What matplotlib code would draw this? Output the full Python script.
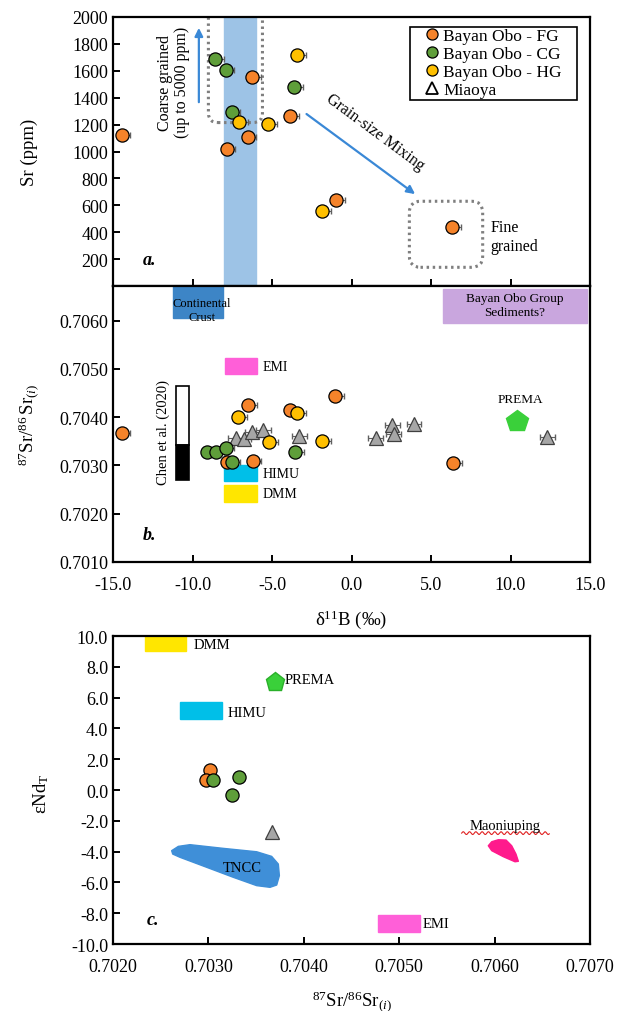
import numpy as np
import matplotlib
matplotlib.use("Agg")
import matplotlib.pyplot as plt
from matplotlib.patches import Rectangle, Polygon, FancyBboxPatch
from matplotlib.lines import Line2D
from matplotlib.ticker import FormatStrFormatter

plt.rcParams['font.family'] = ['Liberation Serif', 'DejaVu Serif']
plt.rcParams['mathtext.fontset'] = 'custom'
plt.rcParams['mathtext.rm'] = 'Liberation Serif'
plt.rcParams['mathtext.it'] = 'Liberation Serif:italic'
plt.rcParams['mathtext.bf'] = 'Liberation Serif:bold'

# ---------------- data ----------------
# panel a : d11B vs Sr (ppm)
a_fg_d = [-14.45, -6.24, -3.87, -6.53, -7.85, -0.99, 6.34]
a_fg_sr = [1123, 1551, 1261, 1110, 1019, 642, 441]
a_cg_d = [-8.58, -7.91, -3.60, -7.54]
a_cg_sr = [1688, 1608, 1477, 1296]
a_hg_d = [-3.41, -7.07, -5.23, -1.87]
a_hg_sr = [1717, 1217, 1204, 555]

# panel b : d11B vs 87Sr/86Sr(i)
b_fg_d = [-14.45, -1.04, -6.49, -3.87, -7.85, -6.22, 6.40]
b_fg_sr = [0.70367, 0.70444, 0.70426, 0.70415, 0.70307, 0.70310, 0.70305]
b_cg_d = [-9.07, -8.54, -7.91, -7.54, -3.55]
b_cg_sr = [0.70329, 0.70329, 0.70336, 0.70308, 0.70329]
b_hg_d = [-3.41, -7.12, -5.19, -1.84]
b_hg_sr = [0.70409, 0.70400, 0.70348, 0.70350]
b_mi_d = [-7.28, -6.76, -6.24, -5.55, -3.28, 1.52, 2.57, 2.67, 3.93, 12.31]
b_mi_sr = [0.70357, 0.70355, 0.70369, 0.70374, 0.70361, 0.70357, 0.70383, 0.70366, 0.70385, 0.70360]
b_prema = (10.39, 0.70393)

# panel c : 87Sr/86Sr(i) vs eNd
c_fg_sr = [0.70302, 0.70297]
c_fg_nd = [1.30, 0.65]
c_cg_sr = [0.70305, 0.70332, 0.70325]
c_cg_nd = [0.65, 0.82, -0.30]
c_mi_sr = [0.70367]
c_mi_nd = [-2.75]
c_prema = (0.70370, 7.03)

tncc_sr = [0.702615, 0.702685, 0.702807, 0.703157, 0.703506, 0.703663, 0.703733,
           0.703744, 0.703716, 0.703646, 0.703506, 0.703261, 0.702982, 0.702702, 0.702626]
tncc_nd = [-3.94, -3.66, -3.55, -3.79, -4.01, -4.31, -4.81,
           -5.56, -6.17, -6.32, -6.21, -5.67, -5.02, -4.37, -4.16]
maon_sr = [0.705934, 0.705970, 0.706039, 0.706120, 0.706179, 0.706224, 0.706249,
           0.706214, 0.706091, 0.705970]
maon_nd = [-3.62, -3.36, -3.23, -3.25, -3.62, -4.16, -4.63, -4.66, -4.33, -3.94]

c_orange = '#f5832a'
c_green = '#5f9e3a'
c_yellow = '#ffc000'
c_gray = '#a6a6a6'
c_arrow = '#3a88d6'

fig = plt.figure(figsize=(6.2, 10.12), dpi=100)
L, W = 113/620, 477/620
axa = fig.add_axes([L, 1-287/1012, W, 269/1012])
axb = fig.add_axes([L, 1-563/1012, W, 276/1012])
axc = fig.add_axes([L, 1-945/1012, W, 308/1012])

for ax in (axa, axb, axc):
    for s in ax.spines.values():
        s.set_linewidth(1.6)
    ax.tick_params(direction='in', length=5, width=1.4, labelsize=13, top=False, right=False)

ms = 9.5
def circles(ax, xs, ys, col, err=True):
    if err:
        ax.errorbar(xs, ys, xerr=[np.zeros(len(xs)), np.full(len(xs), 0.55)], fmt='none',
                    ecolor='#606060', elinewidth=0.8, capsize=2.5, zorder=3)
    ax.plot(xs, ys, 'o', ms=ms, mfc=col, mec='black', mew=0.9, zorder=4)

# ---------------- panel a ----------------
axa.set_xlim(-15, 15)
axa.set_ylim(0, 2000)
axa.set_xticks([-15, -10, -5, 0, 5, 10, 15])
axa.set_xticklabels([])
axa.set_yticks(list(range(200, 2001, 200)))
axa.axvspan(-8, -6, color='#9dc3e6', zorder=1)
# dotted boxes
asp = (2000/269) / (30/477)
axa.add_patch(FancyBboxPatch((-9.0, 1215), 3.4, 1000, boxstyle='round,pad=0,rounding_size=0.6',
                             mutation_aspect=asp, fill=False, ec='#7f7f7f', lw=2.2,
                             ls=(0, (0.8, 1.2)), zorder=2, clip_on=True))
axa.add_patch(FancyBboxPatch((3.64, 139), 4.61, 491, boxstyle='round,pad=0,rounding_size=0.7',
                             mutation_aspect=asp, fill=False, ec='#7f7f7f', lw=2.2,
                             ls=(0, (0.8, 1.2)), zorder=2))
circles(axa, a_fg_d, a_fg_sr, c_orange)
circles(axa, a_cg_d, a_cg_sr, c_green)
circles(axa, a_hg_d, a_hg_sr, c_yellow)
axa.annotate('', xy=(-9.6, 1940), xytext=(-9.6, 1346),
             arrowprops=dict(arrowstyle='-|>', color=c_arrow, lw=1.6, mutation_scale=12))
axa.text(-11.2, 1520, 'Coarse grained\n(up to 5000 ppm)', rotation=90, ha='center', va='center',
         fontsize=11.5, linespacing=1.1)
axa.annotate('', xy=(4.14, 671), xytext=(-2.97, 1291),
             arrowprops=dict(arrowstyle='-|>', color=c_arrow, lw=1.6, mutation_scale=12))
axa.text(1.5, 1150, 'Grain-size Mixing', rotation=-36.5, ha='center', va='center',
         rotation_mode='anchor', fontsize=11.5)
axa.text(8.75, 370, 'Fine\ngrained', ha='left', va='center', fontsize=11.5, linespacing=1.25)
axa.text(-13.1, 195, 'a.', fontsize=13, fontweight='bold', fontstyle='italic', ha='left', va='center')
axa.set_ylabel('Sr (ppm)', fontsize=13.5)
axa.yaxis.set_label_coords(-0.158, 0.5)

# legend (frame drawn separately)
axa.add_patch(Rectangle((0.623, 0.690), 0.350, 0.273, transform=axa.transAxes, fill=False,
                        ec='black', lw=1.2, zorder=6))
handles = [Line2D([], [], ls='none', marker='o', ms=8, mfc=c_orange, mec='black', mew=0.9),
           Line2D([], [], ls='none', marker='o', ms=8, mfc=c_green, mec='black', mew=0.9),
           Line2D([], [], ls='none', marker='o', ms=8, mfc=c_yellow, mec='black', mew=0.9),
           Line2D([], [], ls='none', marker='^', ms=8, mfc='white', mec='black', mew=1.3)]
leg = axa.legend(handles, ['Bayan Obo - FG', 'Bayan Obo - CG', 'Bayan Obo - HG', 'Miaoya'],
                 loc='upper left', bbox_to_anchor=(0.645, 0.958), fontsize=12.5, frameon=False,
                 labelspacing=0.1, handletextpad=0.0, handlelength=1.3, borderpad=0.0,
                 borderaxespad=0)
leg._legend_box.align = 'left'

# ---------------- panel b ----------------
axb.set_xlim(-15, 15)
axb.set_ylim(0.7010, 0.70672)
axb.set_xticks([-15, -10, -5, 0, 5, 10, 15])
axb.set_yticks([0.7010, 0.7020, 0.7030, 0.7040, 0.7050, 0.7060])
axb.xaxis.set_major_formatter(FormatStrFormatter('%.1f'))
axb.yaxis.set_major_formatter(FormatStrFormatter('%.4f'))
axb.tick_params(axis='x', pad=10)
axb.add_patch(Rectangle((-11.2, 0.70606), 3.1, 0.0007, color='#3d85c6', zorder=1))
axb.text(-9.42, 0.70622, 'Continental\nCrust', ha='center', va='center', fontsize=9, linespacing=1.25, zorder=2)
axb.add_patch(Rectangle((5.77, 0.70596), 9.02, 0.0007, color='#c9a6de', zorder=1))
axb.text(10.28, 0.70632, 'Bayan Obo Group\nSediments?', ha='center', va='center', fontsize=9.5, linespacing=1.2)
axb.add_patch(Rectangle((-7.96, 0.70490), 2.03, 0.00033, color='#ff5fd8', zorder=1))
axb.text(-5.6, 0.70506, 'EMI', ha='left', va='center', fontsize=10)
axb.add_patch(Rectangle((-8.0, 0.70267), 2.03, 0.00035, color='#00bfe8', zorder=1))
axb.text(-5.6, 0.70284, 'HIMU', ha='left', va='center', fontsize=10)
axb.add_patch(Rectangle((-8.0, 0.70225), 2.03, 0.00035, color='#ffe600', zorder=1))
axb.text(-5.6, 0.70242, 'DMM', ha='left', va='center', fontsize=10)
axb.add_patch(Rectangle((-11.04, 0.70343), 0.82, 0.00122, fc='white', ec='black', lw=1.2, zorder=2))
axb.add_patch(Rectangle((-11.04, 0.70270), 0.82, 0.00073, fc='black', ec='black', lw=1.2, zorder=2))
axb.text(-11.85, 0.70370, 'Chen et al. (2020)', rotation=90, ha='center', va='center', fontsize=10.5)
axb.errorbar(b_mi_d, b_mi_sr, xerr=0.47, fmt='none', ecolor='#606060', elinewidth=0.8, capsize=2.5, zorder=3)
axb.plot(b_mi_d, b_mi_sr, '^', ms=10, mfc=c_gray, mec='#404040', mew=0.9, zorder=4)
circles(axb, b_fg_d, b_fg_sr, c_orange)
circles(axb, b_cg_d, b_cg_sr, c_green)
circles(axb, b_hg_d, b_hg_sr, c_yellow)
axb.plot([b_prema[0]], [b_prema[1]], 'p', ms=16, mfc='#3ad03a', mec='#3ad03a', zorder=4)
axb.text(10.6, 0.70438, 'PREMA', ha='center', va='center', fontsize=9.5)
axb.text(-13.1, 0.70158, 'b.', fontsize=13, fontweight='bold', fontstyle='italic', ha='left', va='center')
axb.set_ylabel(r'$^{87}\mathrm{Sr}/^{86}\,\mathrm{Sr}_{(i)}$', fontsize=13.5)
axb.yaxis.set_label_coords(-0.15, 0.5)
axb.set_xlabel('δ$^{11}$B (‰)', fontsize=13.5)
axb.xaxis.set_label_coords(0.5, -0.165)

# ---------------- panel c ----------------
axc.set_xlim(0.7020, 0.7070)
axc.set_ylim(-10, 10)
axc.set_xticks([0.7020, 0.7030, 0.7040, 0.7050, 0.7060, 0.7070])
axc.set_yticks(list(np.arange(-10, 10.1, 2)))
axc.xaxis.set_major_formatter(FormatStrFormatter('%.4f'))
axc.yaxis.set_major_formatter(FormatStrFormatter('%.1f'))
axc.tick_params(axis='x', pad=10)
axc.add_patch(Rectangle((0.70234, 9.05), 0.00043, 0.95, color='#ffe600', zorder=1))
axc.text(0.70284, 9.45, 'DMM', ha='left', va='center', fontsize=10.5)
axc.add_patch(Rectangle((0.70270, 4.6), 0.00044, 1.13, color='#00bfe8', zorder=1))
axc.text(0.70320, 5.05, 'HIMU', ha='left', va='center', fontsize=10.5)
axc.add_patch(Rectangle((0.70478, -9.2), 0.00044, 1.08, color='#ff5fd8', zorder=1))
axc.text(0.70525, -8.7, 'EMI', ha='left', va='center', fontsize=10.5)
axc.add_patch(Polygon(np.column_stack([tncc_sr, tncc_nd]), closed=True, fc='#3f8fd8', ec='#3f8fd8',
                      lw=1, joinstyle='round', zorder=1))
axc.text(0.70335, -5.0, 'TNCC', ha='center', va='center', fontsize=10.5)
axc.add_patch(Polygon(np.column_stack([maon_sr, maon_nd]), closed=True, fc='#ff1a8c', ec='#ff1a8c',
                      lw=1, joinstyle='round', zorder=1))
axc.text(0.70611, -2.3, 'Maoniuping', ha='center', va='center', fontsize=10.5)
wx = np.linspace(0.705655, 0.706573, 160)
axc.plot(wx, -2.80 + 0.09*np.sin((wx - wx[0]) / 0.0000105), color='#e02020', lw=0.8, zorder=2)
axc.plot(c_mi_sr, c_mi_nd, '^', ms=10, mfc=c_gray, mec='#404040', mew=0.9, zorder=4)
circles(axc, c_fg_sr, c_fg_nd, c_orange, err=False)
circles(axc, c_cg_sr, c_cg_nd, c_green, err=False)
axc.plot([c_prema[0]], [c_prema[1]], 'p', ms=14, mfc='#3ad03a', mec='#2ab02a', zorder=4)
axc.text(0.70380, 7.2, 'PREMA', ha='left', va='center', fontsize=10.5)
axc.text(0.70235, -8.38, 'c.', fontsize=13, fontweight='bold', fontstyle='italic', ha='left', va='center')
axc.set_ylabel('εNd$_\\mathrm{T}$', fontsize=13.5)
axc.yaxis.set_label_coords(-0.13, 0.49)
axc.set_xlabel(r'$^{87}\mathrm{Sr}/^{86}\mathrm{Sr}_{(i)}$', fontsize=13.5)
axc.xaxis.set_label_coords(0.5, -0.145)

fig.savefig('out.png', dpi=100)
